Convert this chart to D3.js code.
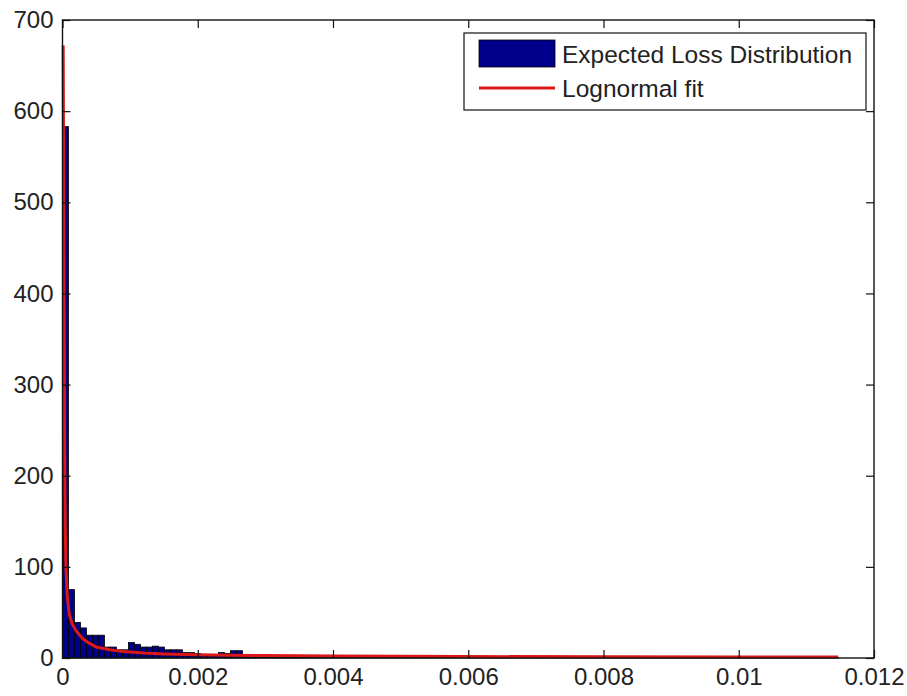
<!DOCTYPE html>
<html>
<head>
<meta charset="utf-8">
<script src="https://cdn.jsdelivr.net/npm/d3@7"></script>
<style>
  html, body { margin: 0; padding: 0; background: #ffffff; }
  svg { display: block; }
  text { font-family: "Liberation Sans", Arial, sans-serif; fill: #222; }
</style>
</head>
<body>
<svg id="chart" width="907" height="696"></svg>
<script>
// ---------------- data ----------------
const binWidth = 0.0000887;
const binCounts = [583, 75, 39, 33, 25, 25, 25, 12, 12, 9, 9, 17, 15, 12, 12, 13, 12, 9, 9, 9,
                   6, 6, 5, 3, 3, 3, 6, 5, 8, 8, 2, 2, 1, 2, 1, 1, 2, 1, 1, 1];
// low tail of the histogram: [start, end, count]
const tailStart = [0.003548, 0.0050, 0.0080];
const tailEnd   = [0.0050, 0.0080, 0.01147];
const tailCount = [1, 0.8, 0.5];

const fitX = [0.00001, 0.00002, 0.00003, 0.00004, 0.00005, 0.00007, 0.0001, 0.00014, 0.0002,
              0.0003, 0.0004, 0.0005, 0.0007, 0.0009, 0.0012, 0.0015, 0.002, 0.0025, 0.003,
              0.004, 0.005, 0.006, 0.008, 0.01, 0.01147];
const fitY = [672, 450, 250, 150, 100, 68, 48, 38, 30,
              21, 16, 12, 9, 7, 5.5, 4.5, 3.5, 3, 2.7,
              2.2, 1.9, 1.6, 1.3, 1.1, 1.0];

const xTicks = [0, 0.002, 0.004, 0.006, 0.008, 0.01, 0.012];
const xTickLabels = ["0", "0.002", "0.004", "0.006", "0.008", "0.01", "0.012"];
const yTicks = [0, 100, 200, 300, 400, 500, 600, 700];
const legendLabels = ["Expected Loss Distribution", "Lognormal fit"];

// ---------------- layout ----------------
const L = 62.5, R = 874, T = 20, B = 658;
const svg = d3.select("#chart");
const x = d3.scaleLinear().domain([0, 0.012]).range([L, R]);
const y = d3.scaleLinear().domain([0, 700]).range([B, T]);

const barFill = "#00008c";
const red = "#dc1717";

// histogram bars
const bars = binCounts.map((c, i) => ({x0: i * binWidth, x1: (i + 1) * binWidth, v: c}));
tailStart.forEach((s, i) => bars.push({x0: s, x1: tailEnd[i], v: tailCount[i]}));

svg.append("g").selectAll("rect").data(bars).join("rect")
  .attr("x", d => x(d.x0))
  .attr("y", d => y(d.v))
  .attr("width", d => x(d.x1) - x(d.x0))
  .attr("height", d => y(0) - y(d.v))
  .attr("fill", barFill)
  .attr("stroke", "#000")
  .attr("stroke-width", 0.8);

// fit line
const line = d3.line().x((d, i) => x(fitX[i])).y(d => y(d));
svg.append("path").datum(fitY)
  .attr("d", line)
  .attr("fill", "none")
  .attr("stroke", red)
  .attr("stroke-width", 3)
  .attr("stroke-linejoin", "round");

// axes (inside ticks, MATLAB style)
const fmtX = d => xTickLabels[xTicks.indexOf(d)];
const gB = svg.append("g").attr("transform", `translate(0,${B})`)
  .call(d3.axisBottom(x).tickValues(xTicks).tickFormat(fmtX).tickSize(-8).tickPadding(10));
const gT = svg.append("g").attr("transform", `translate(0,${T})`)
  .call(d3.axisTop(x).tickValues(xTicks).tickFormat("").tickSize(-8));
const gL = svg.append("g").attr("transform", `translate(${L},0)`)
  .call(d3.axisLeft(y).tickValues(yTicks).tickFormat(d3.format("d")).tickSize(-8).tickPadding(9));
const gR = svg.append("g").attr("transform", `translate(${R},0)`)
  .call(d3.axisRight(y).tickValues(yTicks).tickFormat("").tickSize(-8));

[gB, gT, gL, gR].forEach(g => {
  g.select(".domain").remove();
  g.selectAll(".tick line").attr("stroke", "#111").attr("stroke-width", 1.2);
  g.selectAll("text").attr("font-size", 24).attr("fill", "#2a2a2a")
    .attr("font-family", "'Liberation Sans', Arial, sans-serif");
});

// box
svg.append("rect")
  .attr("x", L).attr("y", T).attr("width", R - L).attr("height", B - T)
  .attr("fill", "none").attr("stroke", "#111").attr("stroke-width", 1.4);

// legend
const lg = svg.append("g");
lg.append("rect").attr("x", 464).attr("y", 33).attr("width", 402).attr("height", 77)
  .attr("fill", "#fff").attr("stroke", "#111").attr("stroke-width", 1.2);
lg.append("rect").attr("x", 479).attr("y", 40).attr("width", 76).attr("height", 27)
  .attr("fill", barFill).attr("stroke", "#000").attr("stroke-width", 0.8);
lg.append("line").attr("x1", 479).attr("x2", 555).attr("y1", 88).attr("y2", 88)
  .attr("stroke", red).attr("stroke-width", 3);
lg.selectAll("text.lab").data(legendLabels).join("text")
  .attr("class", "lab")
  .attr("x", 562)
  .attr("y", (d, i) => i === 0 ? 63 : 97)
  .attr("font-size", 24.5)
  .attr("fill", "#2a2a2a")
  .text(d => d);
</script>
</body>
</html>
